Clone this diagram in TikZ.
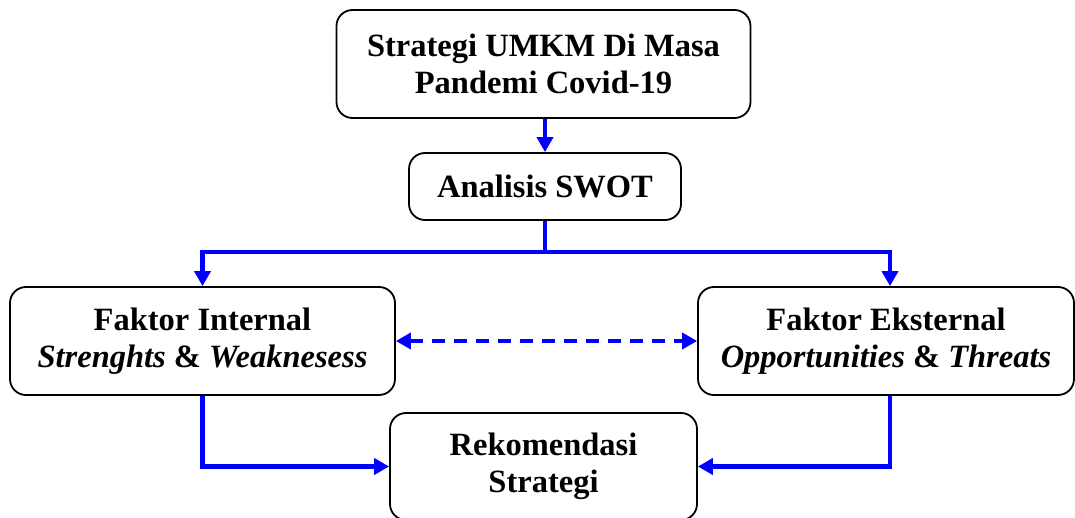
\documentclass[tikz,border=0pt]{standalone}
\usepackage{fontspec}
\setmainfont{Liberation Serif}
\usetikzlibrary{arrows.meta}
\tikzset{
  box/.style={draw=black, line width=1.8pt, rounded corners=16pt, inner sep=0pt,
    align=center, font=\bfseries\fontsize{32.5}{37}\selectfont},
  tip/.style={Triangle[length=15pt,width=16pt]},
  flow/.style={draw=blue, line width=4.4pt, -{Triangle[length=15pt,width=16pt]}},
  link/.style={draw=blue, line width=4.4pt, dash pattern=on 13pt off 9pt,
    {Triangle[length=15pt,width=16pt]}-{Triangle[length=15pt,width=16pt]}}
}
\begin{document}
\begin{tikzpicture}[x=1pt,y=-1pt]
\useasboundingbox (0,0) rectangle (1075,518);
\clip (0,0) rectangle (1075,518);

\node[box, minimum width=414pt, minimum height=108pt] (top) at (543.5,64)
  {Strategi UMKM Di Masa\\Pandemi Covid-19};
\node[box, minimum width=272pt, minimum height=67pt] (swot) at (545,186.5)
  {Analisis SWOT};
\node[box, minimum width=385pt, minimum height=108pt] (int) at (202.5,341)
  {Faktor Internal\\\textit{Strenghts} \& \textit{Weaknesess}};
\node[box, minimum width=376pt, minimum height=108pt] (ext) at (886,341)
  {Faktor Eksternal\\\textit{Opportunities} \& \textit{Threats}};
\node[box, minimum width=307pt, minimum height=107pt] (rek) at (543.5,466.5)
  {Rekomendasi\\Strategi};

\coordinate (split) at (545,252);

\draw[flow] (top.south -| swot) -- (swot.north);
\draw[flow] (swot.south) -- (split) -| (int.north);
\draw[flow] (split) -| ([xshift=4pt]ext.north);
\draw[link] (int.east) -- (ext.west);
\draw[flow] (int.south) |- (rek.west);
\draw[flow] ([xshift=4pt]ext.south) |- (rek.east);
\end{tikzpicture}
\end{document}
